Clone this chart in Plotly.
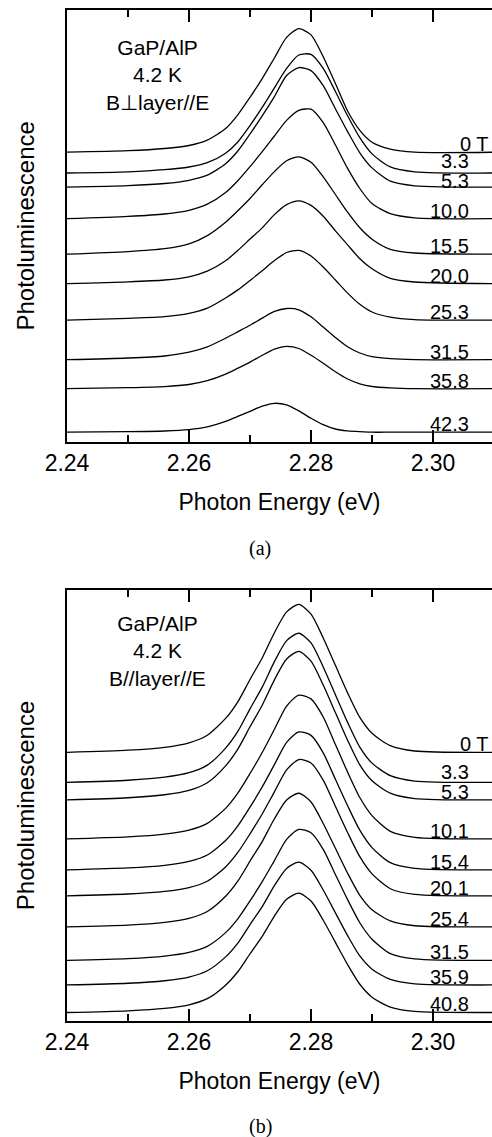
import plotly.graph_objects as go

# ---------------- data ----------------
energy = [2.240, 2.250, 2.256, 2.260, 2.263, 2.266, 2.268, 2.270, 2.272, 2.274, 2.276,
          2.278, 2.280, 2.282, 2.284, 2.286, 2.288, 2.290, 2.293, 2.297, 2.310]

# panel (a): B perpendicular to layer
labels_a = ["0 T", "3.3", "5.3", "10.0", "15.5", "20.0", "25.3", "31.5", "35.8", "42.3"]
offsets_a = [289.5, 268.7, 254.5, 223.0, 187.5, 158.0, 121.5, 82.0, 53.0, 9.5]
a_0T = [0, 1.5, 3.7, 6.7, 12.1, 23.7, 37.4, 54.9, 73.6, 94.2, 114.8, 123.5, 117.3, 95.5, 68.6, 41.2, 21.8, 10, 3.1, 0, 0]
a_3p3 = [0, 1.2, 3.3, 6.0, 10.3, 19.8, 31.0, 47.4, 65.7, 85.1, 104.6, 118, 118.6, 104.6, 81.5, 57.2, 35.3, 19.1, 6.1, 1.2, 0]
a_5p3 = [0, 1.6, 3.7, 6.9, 12.0, 23.5, 36.2, 53.2, 71.3, 90.6, 111.7, 119.6, 116.6, 101.5, 78.5, 55.6, 34.4, 19.3, 6, 1.4, 0]
a_10p0 = [0, 2.3, 4.7, 8.3, 14.5, 26.2, 38, 52, 67, 82.7, 98.3, 108.3, 109.5, 96, 73.7, 50.3, 30.2, 15.1, 5, 0.8, 0]
a_15p5 = [0, 2.6, 5.5, 10.3, 18.6, 32.0, 43.5, 55.7, 69.4, 82.6, 93.4, 97.3, 91.9, 77.3, 59.7, 42, 26.4, 15, 4.9, 1.2, 0]
a_20p0 = [0, 1.8, 3.7, 6.9, 12.5, 22.9, 33.3, 44.6, 55.8, 69.1, 79.1, 82.9, 78.3, 67.5, 52.9, 38.8, 25, 15, 5.4, 1.7, 0]
a_25p3 = [0, 1.8, 3.5, 6.8, 12.0, 22.2, 30.3, 39.8, 49.4, 59.6, 67.7, 69.8, 64.2, 53.2, 40.2, 27.1, 15.9, 8.2, 3.1, 0.6, 0]
a_31p5 = [0, 1.7, 3.7, 7.5, 12.9, 21.5, 27.9, 34.4, 41.6, 48.3, 51.2, 49.9, 42.9, 32.6, 22.2, 12.9, 6.7, 3.1, 1, 0, 0]
a_35p8 = [0, 1, 2.1, 4.2, 8.0, 14.6, 20.5, 26.6, 33.4, 39.6, 42.3, 40.2, 33.4, 25.4, 16.9, 9.7, 4.9, 2.2, 0.8, 0, 0]
a_42p3 = [0, 0.5, 1.2, 2.6, 5.3, 10.8, 15.8, 20.9, 26, 28.9, 27.3, 21.3, 14, 7.6, 3.2, 1.3, 0.5, 0, 0, 0, 0]
spectra_a = [a_0T, a_3p3, a_5p3, a_10p0, a_15p5, a_20p0, a_25p3, a_31p5, a_35p8, a_42p3]

# panel (b): B parallel to layer
labels_b = ["0 T", "3.3", "5.3", "10.1", "15.4", "20.1", "25.4", "31.5", "35.9", "40.8"]
offsets_b = [268.5, 238.5, 221.0, 182.0, 151.0, 125.0, 94.0, 60.5, 36.0, 8.5]
b_0T = [0, 2.1, 5.0, 9.5, 17.1, 33.9, 50.5, 72.8, 94.3, 119.5, 140.3, 147.8, 138.1, 114.3, 86.9, 59.4, 34.9, 19, 6.7, 1.3, 0]
b_3p3 = [0, 2.1, 5.1, 9.6, 17.2, 34.2, 50.9, 73.4, 95.1, 120.6, 141.6, 149, 139.3, 115.3, 87.6, 59.9, 35.2, 19.2, 6.7, 1.3, 0]
b_5p3 = [0, 2.1, 5.1, 9.5, 17.1, 34.0, 50.7, 73, 94.6, 119.9, 140.8, 148.3, 138.6, 114.7, 87.2, 59.6, 35, 19.1, 6.7, 1.3, 0]
b_10p1 = [0, 2.0, 4.8, 8.8, 15.5, 30.5, 45.7, 65.3, 86.3, 109.5, 132.7, 143.6, 139.9, 121.8, 94.3, 66.7, 41.3, 23.2, 7.5, 1.6, 0]
b_15p4 = [0, 2, 4.6, 8.5, 14.9, 29.3, 43.9, 62.7, 82.9, 105.2, 127.5, 137.9, 134.4, 117, 90.5, 64.1, 39.7, 22.3, 7.2, 1.5, 0]
b_20p1 = [0, 1.9, 4.5, 8.4, 14.7, 28.9, 43.4, 62, 81.9, 104, 126, 136.3, 132.9, 115.7, 89.5, 63.3, 39.2, 22, 7.2, 1.5, 0]
b_25p4 = [0, 1.9, 4.6, 8.6, 15.4, 30.6, 45.7, 65.8, 85.3, 108.1, 126.9, 133.6, 124.9, 103.4, 78.6, 53.7, 31.6, 17.2, 6, 1.2, 0]
b_31p5 = [0, 1.9, 4.4, 8.1, 14.1, 27.8, 41.6, 59.5, 78.7, 99.8, 121, 130.9, 127.6, 111, 85.9, 60.8, 37.7, 21.2, 6.9, 1.5, 0]
b_35p9 = [0, 1.7, 4.2, 7.9, 14.2, 28.1, 41.9, 60.4, 78.3, 99.3, 116.5, 122.7, 114.7, 94.9, 72.1, 49.3, 29, 15.8, 5.5, 1.1, 0]
b_40p8 = [0, 1.7, 4.1, 7.7, 13.8, 27.3, 40.7, 58.7, 76.1, 96.4, 113.2, 119.2, 111.4, 92.2, 70.1, 47.9, 28.2, 15.3, 5.4, 1.1, 0]
spectra_b = [b_0T, b_3p3, b_5p3, b_10p1, b_15p4, b_20p1, b_25p4, b_31p5, b_35p9, b_40p8]

x_ticks = [2.24, 2.26, 2.28, 2.30]

# ---------------- figure ----------------
SANS = "Liberation Sans, Arial, Helvetica, sans-serif"
SERIF = "Liberation Serif, Times New Roman, serif"

fig = go.Figure()
line_style = dict(color="black", width=1.3, shape="spline", smoothing=0.7)

for spec, off in zip(spectra_a, offsets_a):
    fig.add_trace(go.Scatter(x=energy, y=[off + v for v in spec], mode="lines",
                             line=line_style, xaxis="x", yaxis="y",
                             hoverinfo="skip", showlegend=False))
for spec, off in zip(spectra_b, offsets_b):
    fig.add_trace(go.Scatter(x=energy, y=[off + v for v in spec], mode="lines",
                             line=line_style, xaxis="x2", yaxis="y2",
                             hoverinfo="skip", showlegend=False))

H, T, B = 1137, 10, 116
plot_h = H - T - B
dom_a = [(1021 - 441.7) / plot_h, 1.0]
dom_b = [0.0, (1021 - 590) / plot_h]

def xaxis_cfg(anchor):
    return dict(anchor=anchor, range=[2.24, 2.30967], tickvals=x_ticks, tickformat=".2f",
                ticks="inside", ticklen=12, tickwidth=1.5, tickcolor="black",
                minor=dict(dtick=0.01, tick0=2.24, ticks="inside", ticklen=7,
                           tickwidth=1.5, tickcolor="black", showgrid=False),
                showline=True, linewidth=1.5, linecolor="black", mirror="ticks",
                showgrid=False, zeroline=False,
                tickfont=dict(family=SANS, size=23, color="black"),
                title=dict(text="Photon Energy (eV)", standoff=19,
                           font=dict(family=SANS, size=23, color="black")))

def yaxis_cfg(anchor, dom, top):
    return dict(anchor=anchor, domain=dom, range=[0, top], showline=True, linewidth=1.5,
                linecolor="black", ticks="", showticklabels=False, showgrid=False,
                zeroline=False,
                title=dict(text="Photoluminescence", standoff=24,
                           font=dict(family=SANS, size=24, color="black")))

fig.update_layout(
    width=492, height=H, margin=dict(l=67, r=0, t=T, b=B, autoexpand=False),
    paper_bgcolor="white", plot_bgcolor="white",
    xaxis=xaxis_cfg("y"), yaxis=yaxis_cfg("x", dom_a, 431.7),
    xaxis2=xaxis_cfg("y2"), yaxis2=yaxis_cfg("x2", dom_b, 430.7),
)

ann = []
# curve labels (value of magnetic field, sitting on each trace's right end)
for xr, yr, labels, offsets in (("x", "y", labels_a, offsets_a), ("x2", "y2", labels_b, offsets_b)):
    for lab, off in zip(labels, offsets):
        a = dict(x=2.30623, y=off, xref=xr, yref=yr, text=lab, xanchor="right",
                 yanchor="bottom", yshift=-5, showarrow=False,
                 font=dict(family=SANS, size=20, color="black"))
        if lab == "0 T":
            a.update(x=2.3041, xanchor="left")
        if lab == "3.3":
            a.update(yshift=-1 if xr == "x" else -3)
        if lab == "5.3" and xr == "x":
            a.update(yshift=-7)
        ann.append(a)

# sample info text blocks
ann.append(dict(x=2.2549, y=367, xref="x", yref="y",
                text="GaP/AlP<br>4.2 K<br>B\u22a5layer//E", showarrow=False,
                xanchor="center", yanchor="middle", align="center",
                font=dict(family=SANS, size=21, color="black")))
ann.append(dict(x=2.2549, y=370, xref="x2", yref="y2",
                text="GaP/AlP<br>4.2 K<br>B//layer//E", showarrow=False,
                xanchor="center", yanchor="middle", align="center",
                font=dict(family=SANS, size=21, color="black")))

# panel captions
ann.append(dict(x=(260 - 67) / 425, y=(1021 - 548) / plot_h, xref="paper", yref="paper",
                text="(a)", showarrow=False, xanchor="center", yanchor="middle",
                font=dict(family=SERIF, size=20, color="black")))
ann.append(dict(x=(260 - 67) / 425, y=(1021 - 1126.7) / plot_h, xref="paper", yref="paper",
                text="(b)", showarrow=False, xanchor="center", yanchor="middle",
                font=dict(family=SERIF, size=20, color="black")))

fig.update_layout(annotations=ann)
fig.write_html("out.html")
